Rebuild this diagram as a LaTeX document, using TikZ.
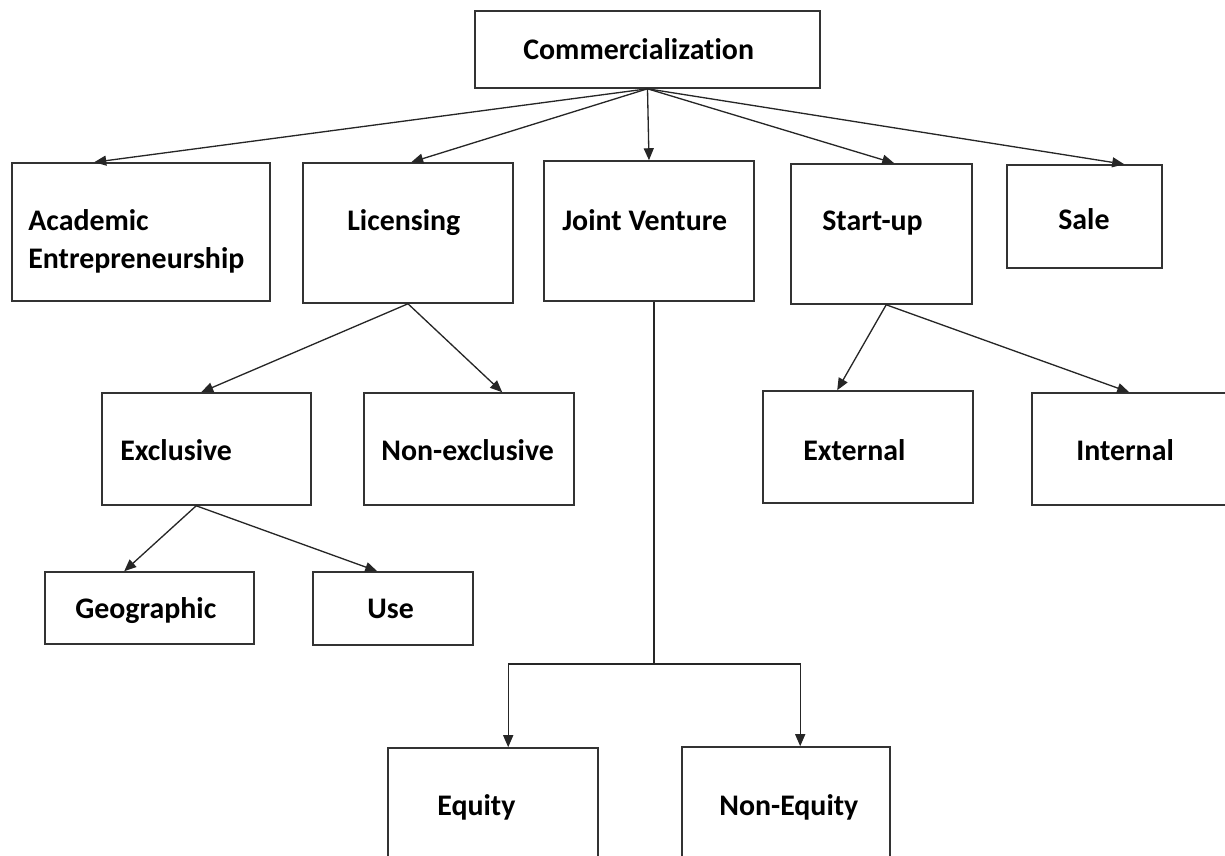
\documentclass[tikz,border=0pt]{standalone}
\usepackage{fontspec}
\setmainfont{Carlito}[Ligatures=NoCommon]
\usetikzlibrary{arrows.meta}
\tikzset{
  box/.style={draw=black!80, line width=0.9pt, inner sep=0pt},
  lbl/.style={font=\fontsize{17}{21}\selectfont\bfseries, inner sep=0pt, anchor=base west},
  arr/.style={-{Triangle[length=2.4mm,width=2mm]}, line width=0.75pt, black!85}
}
\begin{document}
\begin{tikzpicture}[x=0.02cm, y=-0.02cm]
\clip (0,0) rectangle (1225,856);
% boxes
\node[box, minimum width=6.9cm, minimum height=1.54cm] (com) at (647.5,49.5) {};
\node[box, minimum width=5.16cm, minimum height=2.76cm] (acad) at (141,232) {};
\node[box, minimum width=4.2cm, minimum height=2.8cm] (lic) at (408,233) {};
\node[box, minimum width=4.2cm, minimum height=2.8cm] (jv) at (649,231) {};
\node[box, minimum width=3.62cm, minimum height=2.8cm] (start) at (881.5,234) {};
\node[box, minimum width=3.1cm, minimum height=2.06cm] (sale) at (1084.5,216.5) {};
\node[box, minimum width=4.18cm, minimum height=2.24cm] (excl) at (206.5,449) {};
\node[box, minimum width=4.2cm, minimum height=2.24cm] (nonex) at (469,449) {};
\node[box, minimum width=4.2cm, minimum height=2.24cm] (ext) at (868,447) {};
\node[box, minimum width=4.6cm, minimum height=2.24cm] (int) at (1147,449) {};
\node[box, minimum width=4.18cm, minimum height=1.44cm] (geo) at (149.5,608) {};
\node[box, minimum width=3.2cm, minimum height=1.46cm] (use) at (393,608.5) {};
\node[box, minimum width=4.2cm, minimum height=2.24cm] (eq) at (493,804) {};
\node[box, minimum width=4.16cm, minimum height=2.24cm] (noneq) at (786,803) {};
% labels
\node[lbl] (tcom) at (523,59) {Commercialization};
\node[lbl] (tacad) at (28,230) {Academic};
\node[lbl] (tacadb) at (28,268) {Entrepreneurship};
\node[lbl] (tlic) at (347,230) {Licensing};
\node[lbl] (tjv) at (562,230) {Joint Venture};
\node[lbl] (tstart) at (822,230) {Start-up};
\node[lbl] (tsale) at (1058,229) {Sale};
\node[lbl] (texcl) at (120,460) {Exclusive};
\node[lbl] (tnonex) at (381,460) {Non-exclusive};
\node[lbl] (text) at (803,460) {External};
\node[lbl] (tint) at (1076,460) {Internal};
\node[lbl] (tgeo) at (75,618) {Geographic};
\node[lbl] (tuse) at (367,618) {Use};
\node[lbl] (teq) at (437,815) {Equity};
\node[lbl] (tnoneq) at (719,815) {Non-Equity};
% first level
\draw[arr] (com.south) -- ([xshift=1.66cm]acad.north west);
\draw[arr] (com.south) -- ([xshift=2.18cm]lic.north west);
\draw[arr] (com.south) -- (jv.north);
\draw[arr] (com.south) -- ([xshift=2.08cm]start.north west);
\draw[arr] (com.south) -- ([xshift=2.36cm]sale.north west);
% licensing and start-up
\draw[arr] (lic.south) -- ([xshift=2cm]excl.north west);
\draw[arr] (lic.south) -- ([xshift=2.78cm]nonex.north west);
\draw[arr] ([xshift=1.92cm]start.south west) -- ([xshift=1.5cm]ext.north west);
\draw[arr] ([xshift=1.92cm]start.south west) -- ([xshift=1.96cm]int.north west);
\draw[arr] ([xshift=1.9cm]excl.south west) -- ([xshift=1.6cm]geo.north west);
\draw[arr] ([xshift=1.9cm]excl.south west) -- ([xshift=1.3cm]use.north west);
% joint venture
\coordinate (split) at ([xshift=1mm]jv.south |- 0,664);
\draw[line width=0.75pt, black!85] ([xshift=1mm]jv.south) -- (split);
\draw[arr] (split) -| ([xshift=2.42cm]eq.north west);
\draw[arr] (split) -| ([xshift=2.38cm]noneq.north west);
\end{tikzpicture}
\end{document}
